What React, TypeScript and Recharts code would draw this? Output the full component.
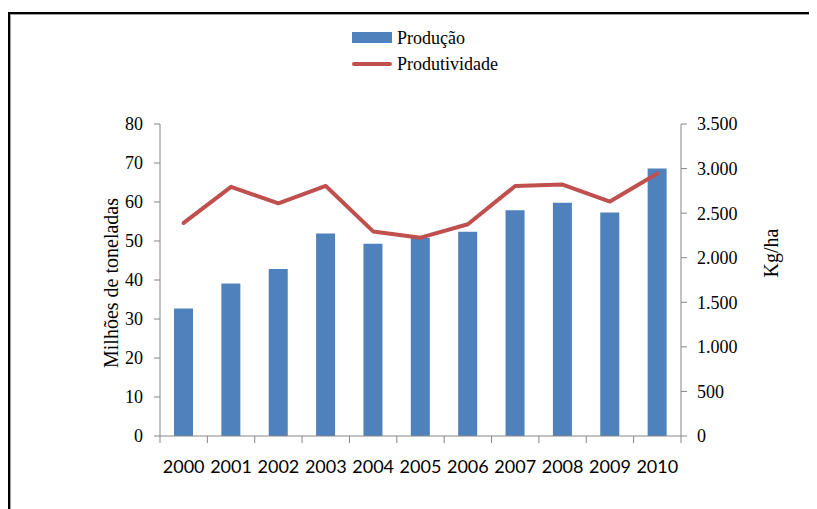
import React from 'react';
import { ComposedChart, Bar, Line, XAxis, YAxis, Legend } from 'recharts';

// Produção de grãos (milhões de toneladas) e produtividade (kg/ha), 2000–2010
const years = ['2000', '2001', '2002', '2003', '2004', '2005', '2006', '2007', '2008', '2009', '2010'];
const producao = [32.7, 39.1, 42.8, 51.9, 49.3, 50.8, 52.4, 57.9, 59.8, 57.3, 68.6];
const produtividade = [2390, 2795, 2610, 2805, 2295, 2225, 2375, 2805, 2820, 2630, 2945];
const leftTicks = [0, 10, 20, 30, 40, 50, 60, 70, 80];
const rightTicks = [0, 500, 1000, 1500, 2000, 2500, 3000, 3500];
const legendOrder = ['Produção', 'Produtividade'];

const data = years.map((ano, i) => ({
  ano,
  producao: producao[i],
  produtividade: produtividade[i],
}));

const SERIF = '"Liberation Serif", "Times New Roman", serif';
const SANS = 'Lato, "Open Sans", sans-serif';
const AXIS = '#868686';
const BLUE = '#4F81BD';
const RED = '#C0504D';

const thousands = (v: number) => String(v).replace(/\B(?=(\d{3})+(?!\d))/g, '.');

// Year labels with tick marks placed on the category boundaries
const YearTick = (props: any) => {
  const { x, y, payload, index } = props;
  const half = payload && typeof payload.offset === 'number' ? payload.offset : 0;
  return (
    <g>
      <line x1={x - half} x2={x - half} y1={y} y2={y + 7} stroke={AXIS} />
      {index === years.length - 1 && (
        <line x1={x + half} x2={x + half} y1={y} y2={y + 7} stroke={AXIS} />
      )}
      <text x={x} y={y + 24} dy="0.71em" textAnchor="middle" fill="#000" fontSize={18} fontFamily={SANS}>
        {payload.value}
      </text>
    </g>
  );
};

const LeftTitle = (props: any) => {
  const vb = props.viewBox || {};
  const x = vb.x + 17.5;
  const y = vb.y + vb.height / 2 + 3;
  return (
    <text x={x} y={y} transform={`rotate(-90 ${x} ${y})`} textAnchor="middle" fontFamily={SERIF} fontSize={20} fill="#000">
      Milhões de toneladas
    </text>
  );
};

const RightTitle = (props: any) => {
  const vb = props.viewBox || {};
  const x = vb.x + 97;
  const y = vb.y + vb.height / 2 - 27;
  return (
    <text x={x} y={y} transform={`rotate(-90 ${x} ${y})`} textAnchor="middle" fontFamily={SERIF} fontSize={20} fill="#000">
      Kg/ha
    </text>
  );
};

const LegendBox = (props: any) => {
  const items = [...(props.payload || [])].sort(
    (a: any, b: any) => legendOrder.indexOf(a.value) - legendOrder.indexOf(b.value)
  );
  return (
    <div style={{ fontFamily: SERIF, fontSize: 18, color: '#000', lineHeight: '20px' }}>
      {items.map((entry: any) => {
        const isLine = entry.type === 'line';
        return (
          <div key={entry.value} style={{ display: 'flex', alignItems: 'center', height: 26 }}>
            <span
              style={{
                display: 'inline-block',
                width: 40,
                height: isLine ? 4 : 11,
                borderRadius: isLine ? 2 : 0,
                background: entry.color,
              }}
            />
            <span style={{ marginLeft: 5, whiteSpace: 'nowrap' }}>{entry.value}</span>
          </div>
        );
      })}
    </div>
  );
};

export default function App() {
  return (
    <div style={{ position: 'relative', width: 809, height: 501, overflow: 'hidden', background: '#fff' }}>
      <div
        style={{
          position: 'absolute',
          left: 0,
          top: 4,
          width: 900,
          height: 600,
          border: '2px solid #000',
          boxShadow: 'inset 1px 1px 0 #a0a0a0',
          boxSizing: 'border-box',
        }}
      />
      <div style={{ position: 'absolute', left: 0, top: 0 }}>
        <ComposedChart
          width={809}
          height={501}
          data={data}
          margin={{ top: 116, right: 76, bottom: 43, left: 92 }}
        >
          <XAxis
            dataKey="ano"
            interval={0}
            height={30}
            axisLine={{ stroke: AXIS }}
            tickLine={false}
            tickSize={0}
            tickMargin={0}
            tick={<YearTick />}
          />
          <YAxis
            yAxisId="left"
            orientation="left"
            domain={[0, 80]}
            ticks={leftTicks}
            interval={0}
            width={60}
            axisLine={{ stroke: AXIS }}
            tickLine={{ stroke: AXIS }}
            tickSize={6}
            tickMargin={11}
            tick={{ fill: '#000', fontSize: 18, fontFamily: SERIF }}
            label={<LeftTitle />}
          />
          <YAxis
            yAxisId="right"
            orientation="right"
            domain={[0, 3500]}
            ticks={rightTicks}
            interval={0}
            width={60}
            axisLine={{ stroke: AXIS }}
            tickLine={{ stroke: AXIS }}
            tickSize={6}
            tickMargin={10}
            tickFormatter={thousands}
            tick={{ fill: '#000', fontSize: 18, fontFamily: SERIF }}
            label={<RightTitle />}
          />
          <Legend
            layout="vertical"
            verticalAlign="middle"
            align="center"
            wrapperStyle={{ top: 16.5, left: 344, width: 'auto' }}
            content={<LegendBox />}
          />
          <Bar
            yAxisId="left"
            dataKey="producao"
            name="Produção"
            fill={BLUE}
            barSize={19}
            legendType="rect"
            isAnimationActive={false}
          />
          <Line
            yAxisId="right"
            dataKey="produtividade"
            name="Produtividade"
            type="linear"
            stroke={RED}
            strokeWidth={4}
            strokeLinejoin="round"
            strokeLinecap="round"
            dot={false}
            activeDot={false}
            legendType="line"
            isAnimationActive={false}
          />
        </ComposedChart>
      </div>
    </div>
  );
}
